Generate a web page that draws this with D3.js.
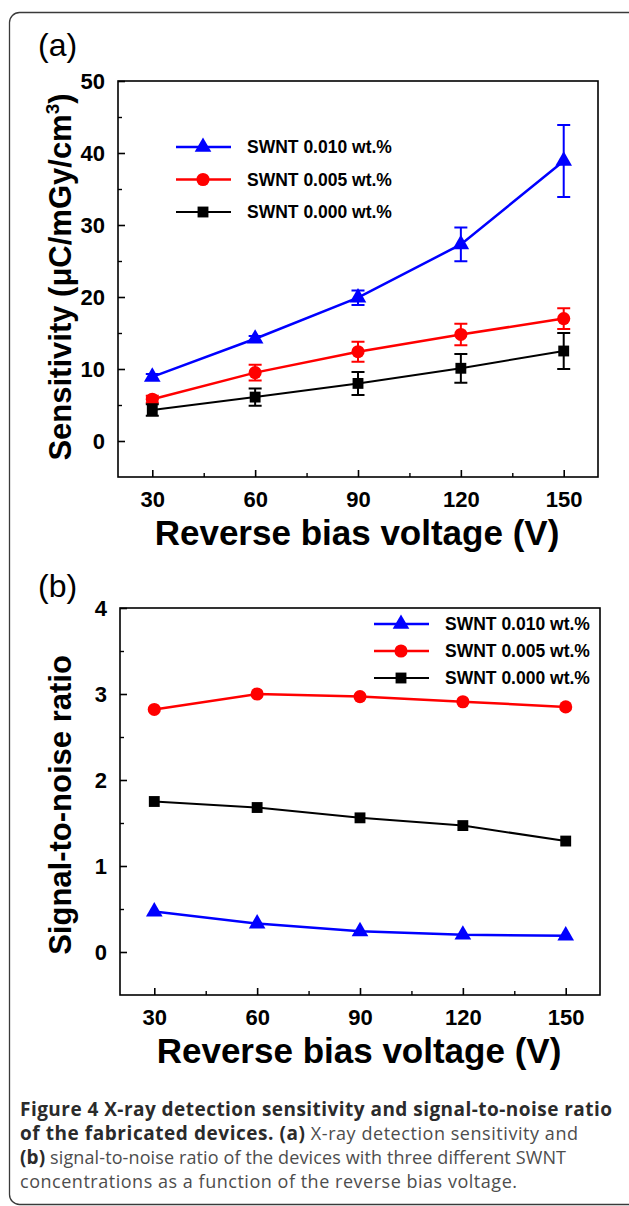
<!DOCTYPE html>
<html>
<head>
<meta charset="utf-8">
<script src="https://cdn.jsdelivr.net/npm/d3@7"></script>
<style>
  html, body { margin: 0; padding: 0; background: #fff; }
  svg { display: block; }
  .tick-label { font-family: "Liberation Sans", Arial, sans-serif; font-weight: bold; font-size: 22px; }
  .axis-title { font-family: "Liberation Sans", Arial, sans-serif; font-weight: bold; }
  .legend-text { font-family: "Liberation Sans", Arial, sans-serif; font-weight: bold; font-size: 17.5px; }
  .panel-tag { font-family: "Liberation Sans", Arial, sans-serif; font-size: 32px; }
  .caption { font-family: "Open Sans", sans-serif; font-size: 18px; }
</style>
</head>
<body>
<div id="chart"></div>
<script>
// x values shared by both panels
const voltages = [30, 60, 90, 120, 150];
const seriesNames = ['SWNT 0.010 wt.%', 'SWNT 0.005 wt.%', 'SWNT 0.000 wt.%'];
const seriesColors = ['#0000ff', '#ff0000', '#000000'];
const seriesShapes = ['triangle', 'circle', 'square'];

// (a) sensitivity, uC/mGy/cm3
const sens010 = [8.9, 14.2, 19.9, 27.3, 38.9];
const sens005 = [5.8, 9.5, 12.4, 14.8, 17.0];
const sens000 = [4.3, 6.1, 8.0, 10.1, 12.5];
const sensErr010 = [0.4, 0.4, 1.0, 2.35, 5.0];
const sensErr005 = [0.5, 1.1, 1.4, 1.5, 1.45];
const sensErr000 = [0.8, 1.2, 1.6, 2.0, 2.5];

// (b) signal-to-noise ratio
const snr010 = [0.47, 0.33, 0.24, 0.20, 0.19];
const snr005 = [2.82, 3.00, 2.97, 2.91, 2.85];
const snr000 = [1.75, 1.68, 1.56, 1.47, 1.29];

const xTicks = [30, 60, 90, 120, 150];
const xMinorTicks = [45, 75, 105, 135];
const sensTicks = [0, 10, 20, 30, 40, 50];
const sensMinorTicks = [5, 15, 25, 35, 45];
const snrTicks = [0, 1, 2, 3, 4];
const snrMinorTicks = [0.5, 1.5, 2.5, 3.5];

const width = 629,
  height = 1206;

const svg = d3.select('#chart').append('svg')
  .attr('width', width)
  .attr('height', height);

// outer frame of the figure box
svg.append('rect')
  .attr('x', 9.5)
  .attr('y', 12.5)
  .attr('width', 630)
  .attr('height', 1192)
  .attr('rx', 10)
  .attr('fill', 'none')
  .attr('stroke', '#3a3a3a')
  .attr('stroke-width', 1.3);

function symbolFor(shape) {
  if (shape === 'triangle') return d3.symbol(d3.symbolTriangle, 120)();
  if (shape === 'circle') return d3.symbol(d3.symbolCircle, 135)();
  return d3.symbol(d3.symbolSquare, 118)();
}

function drawPanel(opts) {
  const { box, yDomain, yTicks, yMinor, series, errors, tag, tagPos, yTitle, yTitleY, legend } = opts;

  const g = svg.append('g');

  const x = d3.scaleLinear().domain([20, 160]).range([box.left, box.right]);
  const y = d3.scaleLinear().domain(yDomain).range([box.bottom, box.top]);

  // frame
  g.append('rect')
    .attr('x', box.left)
    .attr('y', box.top)
    .attr('width', box.right - box.left)
    .attr('height', box.bottom - box.top)
    .attr('fill', 'none')
    .attr('stroke', '#000')
    .attr('stroke-width', 1.6);

  // bottom axis, ticks pointing inward
  const xAxis = g.append('g')
    .attr('transform', `translate(0,${box.bottom})`)
    .call(d3.axisBottom(x).tickValues(xTicks).tickFormat(d3.format('d'))
      .tickSizeInner(-7).tickSizeOuter(0).tickPadding(14));
  xAxis.select('.domain').remove();
  xAxis.selectAll('line').attr('stroke-width', 1.6);
  xAxis.selectAll('text').attr('class', 'tick-label').attr('fill', '#000').attr('dy', '0.71em')
    .attr('font-size', null).attr('font-family', null);

  const xMinor = g.append('g')
    .attr('transform', `translate(0,${box.bottom})`)
    .call(d3.axisBottom(x).tickValues(xMinorTicks).tickSizeInner(-4).tickSizeOuter(0).tickFormat(''));
  xMinor.select('.domain').remove();
  xMinor.selectAll('line').attr('stroke-width', 1.4);

  // left axis
  const yAxis = g.append('g')
    .attr('transform', `translate(${box.left},0)`)
    .call(d3.axisLeft(y).tickValues(yTicks).tickFormat(d3.format('d'))
      .tickSizeInner(-7).tickSizeOuter(0).tickPadding(13));
  yAxis.select('.domain').remove();
  yAxis.selectAll('line').attr('stroke-width', 1.6);
  yAxis.selectAll('text').attr('class', 'tick-label').attr('fill', '#000')
    .attr('font-size', null).attr('font-family', null);

  const yMinorAxis = g.append('g')
    .attr('transform', `translate(${box.left},0)`)
    .call(d3.axisLeft(y).tickValues(yMinor).tickSizeInner(-4).tickSizeOuter(0).tickFormat(''));
  yMinorAxis.select('.domain').remove();
  yMinorAxis.selectAll('line').attr('stroke-width', 1.4);

  // titles
  g.append('text')
    .attr('class', 'axis-title')
    .attr('font-size', 35)
    .attr('text-anchor', 'middle')
    .attr('x', (box.left + box.right) / 2 - 1)
    .attr('y', box.bottom + 68)
    .text('Reverse bias voltage (V)');

  const yt = g.append('text')
    .attr('class', 'axis-title')
    .attr('font-size', 31)
    .attr('text-anchor', 'middle')
    .attr('transform', `translate(71,${yTitleY}) rotate(-90)`);
  yTitle.forEach(part => {
    yt.append('tspan')
      .attr('font-size', part.sup ? 19 : null)
      .attr('dy', part.dy || 0)
      .text(part.text);
  });

  g.append('text')
    .attr('class', 'panel-tag')
    .attr('x', tagPos[0])
    .attr('y', tagPos[1])
    .text(tag);

  // series
  const line = d3.line()
    .x((d, i) => x(voltages[i]))
    .y(d => y(d));

  series.forEach((vals, s) => {
    const color = seriesColors[s];
    const sg = g.append('g');

    sg.append('path')
      .attr('d', line(vals))
      .attr('fill', 'none')
      .attr('stroke', color)
      .attr('stroke-width', s === 2 ? 2 : 2.5);

    if (errors) {
      const errs = errors[s];
      vals.forEach((v, i) => {
        const cx = x(voltages[i]);
        const y0 = y(v - errs[i]),
          y1 = y(v + errs[i]);
        sg.append('path')
          .attr('d', `M${cx},${y0}V${y1}M${cx - 6.5},${y0}H${cx + 6.5}M${cx - 6.5},${y1}H${cx + 6.5}`)
          .attr('fill', 'none')
          .attr('stroke', color)
          .attr('stroke-width', 2);
      });
    }

    sg.selectAll('.pt')
      .data(vals)
      .enter()
      .append('path')
      .attr('d', symbolFor(seriesShapes[s]))
      .attr('transform', (d, i) => `translate(${x(voltages[i])},${y(d)})`)
      .attr('fill', color);
  });

  // legend
  seriesNames.forEach((name, s) => {
    const ly = legend.y + s * legend.step;
    g.append('line')
      .attr('x1', legend.x)
      .attr('x2', legend.x + 55)
      .attr('y1', ly)
      .attr('y2', ly)
      .attr('stroke', seriesColors[s])
      .attr('stroke-width', s === 2 ? 2 : 2.5);
    g.append('path')
      .attr('d', symbolFor(seriesShapes[s]))
      .attr('transform', `translate(${legend.x + 27},${ly})`)
      .attr('fill', seriesColors[s]);
    g.append('text')
      .attr('class', 'legend-text')
      .attr('x', legend.x + 71)
      .attr('y', ly)
      .attr('dy', '0.36em')
      .text(name);
  });
}

drawPanel({
  box: { left: 118, right: 598, top: 81, bottom: 477 },
  yDomain: [-5, 50],
  yTicks: sensTicks,
  yMinor: sensMinorTicks,
  series: [sens010, sens005, sens000],
  errors: [sensErr010, sensErr005, sensErr000],
  tag: '(a)',
  tagPos: [38, 56],
  yTitle: [{ text: 'Sensitivity (μC/mGy/cm' }, { text: '3', sup: true, dy: -12 }, { text: ')', dy: 12 }],
  yTitleY: 277,
  legend: { x: 176, y: 147, step: 32.5 }
});

drawPanel({
  box: { left: 120, right: 600, top: 608, bottom: 995 },
  yDomain: [-0.5, 4],
  yTicks: snrTicks,
  yMinor: snrMinorTicks,
  series: [snr010, snr005, snr000],
  errors: null,
  tag: '(b)',
  tagPos: [38, 597],
  yTitle: [{ text: 'Signal-to-noise ratio' }],
  yTitleY: 805,
  legend: { x: 374, y: 624, step: 27 }
});

// caption, lines set to the widths seen in the figure
const captionLines = [
  [{ t: 'Figure 4 X-ray detection sensitivity and signal-to-noise ratio', b: true }],
  [{ t: 'of the fabricated devices. ', b: true }, { t: '(a)', b: true }, { t: ' X-ray detection sensitivity and', b: false }],
  [{ t: '(b)', b: true }, { t: ' signal-to-noise ratio of the devices with three different SWNT', b: false }],
  [{ t: 'concentrations as a function of the reverse bias voltage.', b: false }]
];
const captionWidths = [592, 558, 546, 497];

captionLines.forEach((parts, i) => {
  const t = svg.append('text')
    .attr('class', 'caption')
    .attr('x', 20)
    .attr('y', 1116 + i * 24)
    .attr('textLength', captionWidths[i])
    .attr('lengthAdjust', 'spacing');
  parts.forEach(p => {
    t.append('tspan')
      .attr('font-weight', p.b ? 'bold' : 'normal')
      .attr('font-size', p.b ? 19 : null)
      .attr('fill', p.b ? '#2b2b2b' : '#4d4d4d')
      .text(p.t);
  });
});
</script>
</body>
</html>
